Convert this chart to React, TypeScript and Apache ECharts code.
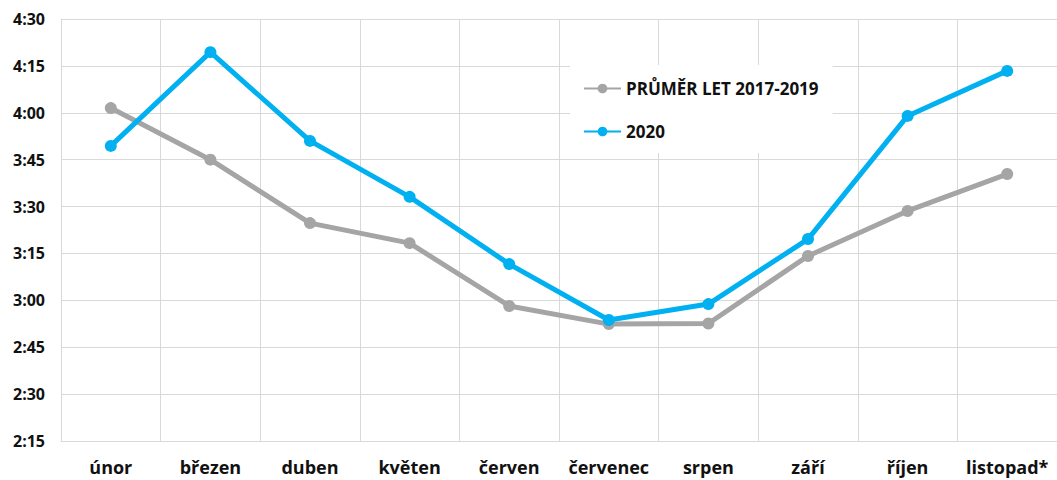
import React, { useEffect, useRef } from "react";
import * as echarts from "echarts";

const categories = ["únor", "březen", "duben", "květen", "červen", "červenec", "srpen", "září", "říjen", "listopad*"];
// values in minutes
const avg2017_2019 = [241.5, 225, 204.7, 198.3, 178.2, 172.4, 172.6, 194.2, 208.6, 220.4];
const year2020 = [229.4, 259.4, 231, 213.1, 191.6, 173.7, 178.8, 199.6, 239, 253.4];
const seriesNames = ["PRŮMĚR LET 2017-2019", "2020"];

const fmt = (v: number) => {
  const h = Math.floor(v / 60);
  const m = Math.round(v - h * 60);
  return `${h}:${m < 10 ? "0" + m : m}`;
};

export default function App() {
  const ref = useRef<HTMLDivElement>(null);
  useEffect(() => {
    const chart = echarts.init(ref.current!, undefined, { renderer: "svg" });
    const font = "'Open Sans', 'Liberation Sans', sans-serif";
    chart.setOption({
      animation: false,
      backgroundColor: "#fff",
      grid: { left: 61, top: 19, width: 1000, height: 422 },
      legend: {
        orient: "vertical",
        left: 570,
        top: 65,
        backgroundColor: "#fff",
        padding: [15, 14, 13, 13],
        itemGap: 26,
        itemWidth: 37,
        itemHeight: 12,
        textStyle: { fontFamily: font, fontWeight: "bold", fontSize: 17, color: "#111" },
        data: seriesNames,
      },
      xAxis: {
        type: "category",
        data: categories,
        boundaryGap: true,
        axisLine: { lineStyle: { color: "#d9d9d9", width: 1 } },
        axisTick: { show: false },
        splitLine: { show: true, interval: 0, lineStyle: { color: "#d9d9d9", width: 1 } },
        axisLabel: { interval: 0, fontFamily: font, fontWeight: "bold", fontSize: 18, lineHeight: 20, color: "#111", margin: 16 },
      },
      yAxis: {
        type: "value",
        min: 135,
        max: 270,
        interval: 15,
        axisLine: { show: true, lineStyle: { color: "#d9d9d9", width: 1 } },
        axisTick: { show: false },
        splitLine: { show: true, lineStyle: { color: "#d9d9d9", width: 1 } },
        axisLabel: { fontFamily: font, fontWeight: "bold", fontSize: 16, color: "#111", margin: 16, formatter: (v: number) => fmt(v) },
      },
      series: [
        {
          name: seriesNames[0],
          type: "line",
          data: avg2017_2019,
          symbol: "circle",
          symbolSize: 12,
          lineStyle: { color: "#A5A5A5", width: 5 },
          itemStyle: { color: "#A5A5A5" },
        },
        {
          name: seriesNames[1],
          type: "line",
          data: year2020,
          symbol: "circle",
          symbolSize: 12,
          lineStyle: { color: "#00B0F0", width: 5 },
          itemStyle: { color: "#00B0F0" },
        },
      ],
    });
    return () => chart.dispose();
  }, []);
  return <div ref={ref} style={{ width: 1057, height: 480, position: "absolute", left: 0, top: 0 }} />;
}
